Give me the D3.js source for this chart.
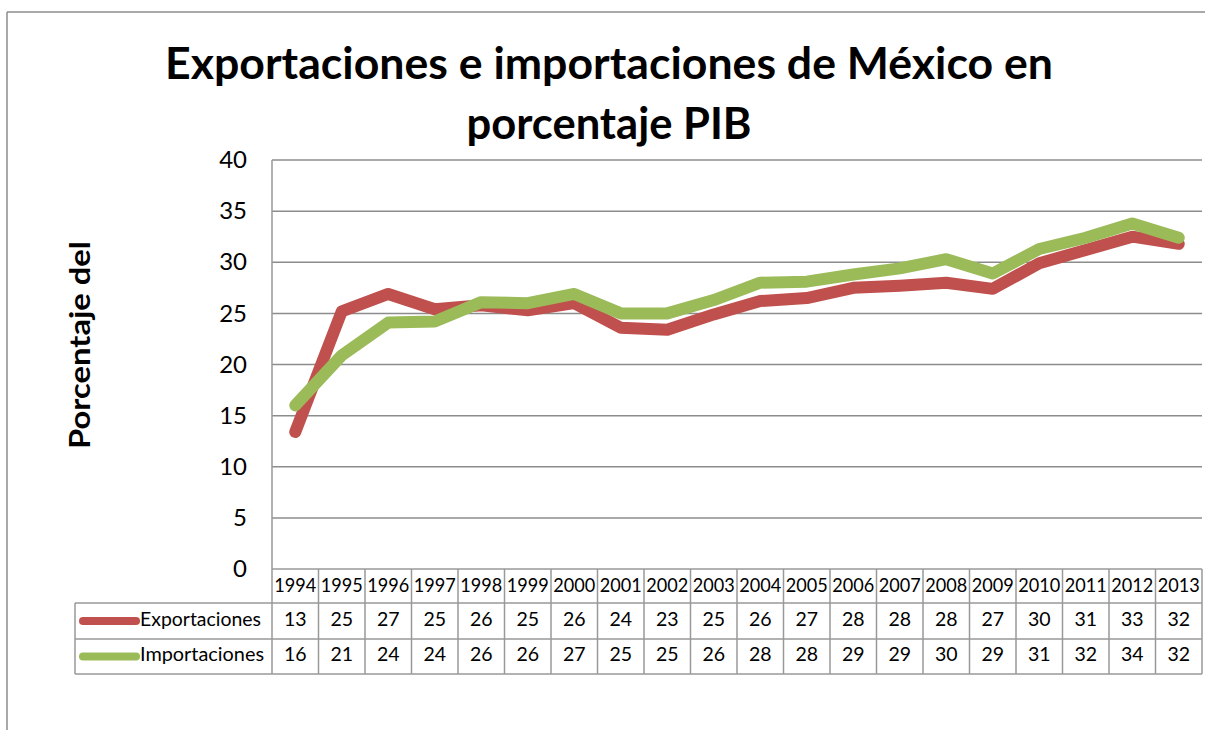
<!DOCTYPE html>
<html>
<head>
<meta charset="utf-8">
<script src="https://cdn.jsdelivr.net/npm/d3@7"></script>
<style>
  body { margin: 0; background: #fff; }
  svg { display: block; font-family: Lato, "Open Sans", sans-serif; }
</style>
</head>
<body>
<svg id="chart" width="1205" height="730"></svg>
<script>
// data
const years = ["1994","1995","1996","1997","1998","1999","2000","2001","2002","2003",
               "2004","2005","2006","2007","2008","2009","2010","2011","2012","2013"];
const exportaciones = [13.4, 25.2, 26.9, 25.4, 25.8, 25.3, 26.0, 23.6, 23.4, 24.9,
                       26.2, 26.5, 27.5, 27.7, 28.0, 27.4, 29.9, 31.2, 32.5, 31.8];
const importaciones = [16.0, 20.9, 24.1, 24.2, 26.1, 26.0, 26.9, 25.0, 25.0, 26.3,
                       28.0, 28.1, 28.8, 29.4, 30.3, 28.9, 31.3, 32.4, 33.8, 32.4];
const yTicks = [0, 5, 10, 15, 20, 25, 30, 35, 40];
const series = [
  { name: "Exportaciones", values: exportaciones, color: "#C0504D" },
  { name: "Importaciones", values: importaciones, color: "#9BBB59" }
];

const svg = d3.select("#chart");
const grey = "#8c8c8c";

const plotLeft = 272, plotRight = 1202, plotTop = 160, plotBottom = 569;
const x = d3.scaleBand().domain(years).range([plotLeft, plotRight]);
const y = d3.scaleLinear().domain([0, 40]).range([plotBottom, plotTop]);

// outer frame (chart area border, partly cropped)
svg.append("line").attr("x1", 7).attr("x2", 7).attr("y1", 12).attr("y2", 730)
  .attr("stroke", grey).attr("stroke-width", 1.5);
svg.append("line").attr("x1", 7).attr("x2", 1205).attr("y1", 12).attr("y2", 12)
  .attr("stroke", grey).attr("stroke-width", 1.5);

// title
const title = svg.append("text").attr("text-anchor", "middle")
  .attr("font-weight", "bold").attr("font-size", 44).attr("fill", "#000");
title.append("tspan").attr("x", 609).attr("y", 79)
  .attr("textLength", 888).attr("lengthAdjust", "spacingAndGlyphs")
  .text("Exportaciones e importaciones de México en");
title.append("tspan").attr("x", 609).attr("y", 139)
  .attr("textLength", 285).attr("lengthAdjust", "spacingAndGlyphs")
  .text("porcentaje PIB");

// gridlines
svg.append("g").selectAll("line").data(yTicks.filter(d => d > 0)).join("line")
  .attr("x1", plotLeft).attr("x2", plotRight)
  .attr("y1", d => y(d)).attr("y2", d => y(d))
  .attr("stroke", grey).attr("stroke-width", 1.5);

// y axis
const yAxis = svg.append("g").attr("transform", `translate(${plotLeft - 25},0)`)
  .call(d3.axisLeft(y).tickValues(yTicks).tickSize(0).tickPadding(0));
yAxis.select(".domain").remove();
yAxis.selectAll("text").attr("font-size", 24).attr("fill", "#000")
  .attr("font-family", "Lato, 'Open Sans', sans-serif");

svg.append("text")
  .attr("transform", "translate(90,345) rotate(-90)")
  .attr("text-anchor", "middle").attr("font-weight", "bold").attr("font-size", 29)
  .attr("textLength", 208).attr("lengthAdjust", "spacingAndGlyphs")
  .text("Porcentaje del");

// table
const rowTop = [plotBottom, 603, 639, 674];
const tableLeft = 75;
const tg = svg.append("g").attr("stroke", "#999").attr("stroke-width", 1.5);
tg.selectAll("line.col").data(d3.range(years.length + 1)).join("line")
  .attr("class", "col")
  .attr("x1", i => plotLeft + i * x.bandwidth()).attr("x2", i => plotLeft + i * x.bandwidth())
  .attr("y1", i => i === 0 ? plotTop : plotBottom).attr("y2", rowTop[3]);
tg.append("line").attr("x1", plotLeft).attr("x2", plotRight).attr("y1", plotBottom).attr("y2", plotBottom);
[rowTop[1], rowTop[2], rowTop[3]].forEach(yy => {
  tg.append("line").attr("x1", tableLeft).attr("x2", plotRight).attr("y1", yy).attr("y2", yy);
});
tg.append("line").attr("x1", tableLeft).attr("x2", tableLeft).attr("y1", rowTop[1]).attr("y2", rowTop[3]);

svg.append("g").selectAll("text").data(years).join("text")
  .attr("x", d => x(d) + x.bandwidth() / 2).attr("y", 587)
  .attr("text-anchor", "middle").attr("dominant-baseline", "middle")
  .attr("font-size", 18.5).attr("textLength", 42).attr("lengthAdjust", "spacingAndGlyphs")
  .text(d => d);

series.forEach((s, r) => {
  const cy = (rowTop[r + 1] + rowTop[r + 2]) / 2;
  svg.append("line").attr("x1", 83).attr("x2", 136).attr("y1", cy).attr("y2", cy)
    .attr("stroke", s.color).attr("stroke-width", 8).attr("stroke-linecap", "round");
  svg.append("text").attr("x", 140).attr("y", cy).attr("dominant-baseline", "middle")
    .attr("font-size", 19.5).attr("textLength", r === 0 ? 121 : 124)
    .attr("lengthAdjust", "spacingAndGlyphs").text(s.name);
  svg.append("g").selectAll("text").data(s.values).join("text")
    .attr("x", (d, i) => x(years[i]) + x.bandwidth() / 2).attr("y", cy)
    .attr("text-anchor", "middle").attr("dominant-baseline", "middle")
    .attr("font-size", 19.5).text(d => Math.round(d));
});

// lines
const line = d3.line()
  .x((d, i) => x(years[i]) + x.bandwidth() / 2)
  .y(d => y(d));
svg.append("g").selectAll("path").data(series).join("path")
  .attr("d", d => line(d.values))
  .attr("fill", "none").attr("stroke", d => d.color)
  .attr("stroke-width", 12).attr("stroke-linejoin", "round").attr("stroke-linecap", "round");
</script>
</body>
</html>
